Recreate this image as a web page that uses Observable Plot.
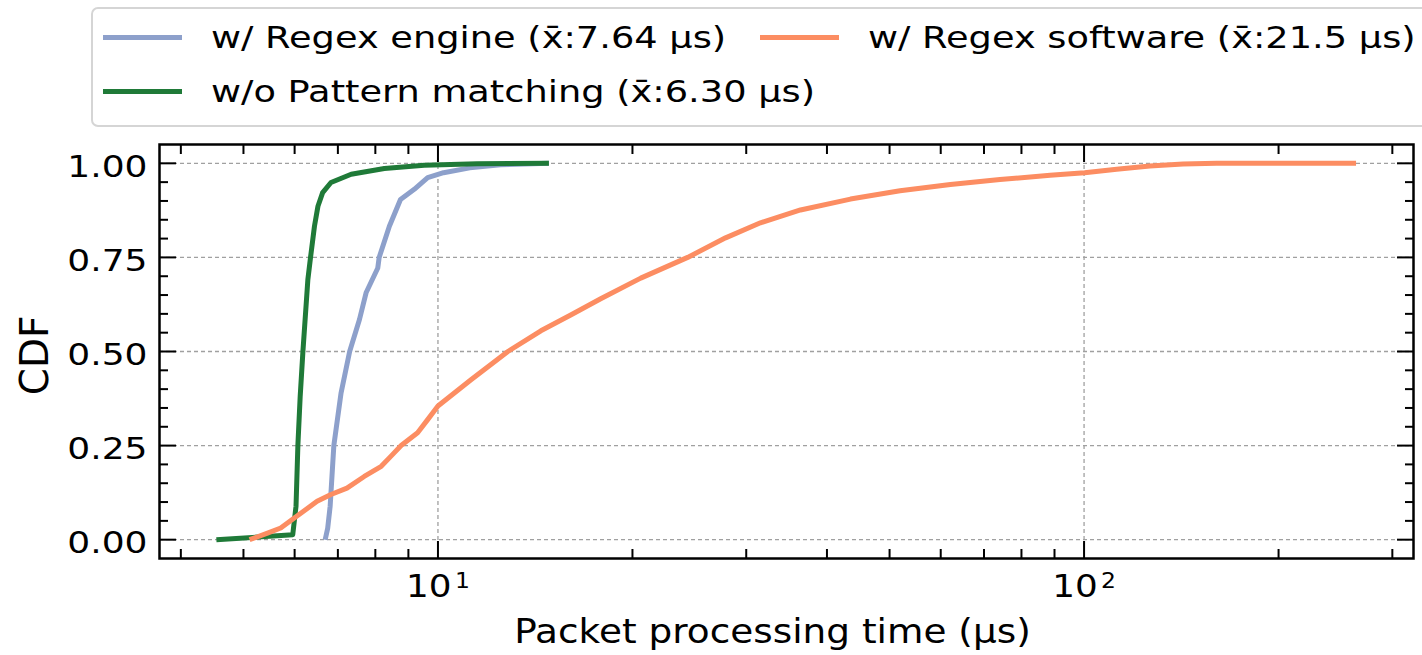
<!DOCTYPE html>
<html><head><meta charset="utf-8">
<script src="https://cdn.jsdelivr.net/npm/d3@7"></script>
<script src="https://cdn.jsdelivr.net/npm/@observablehq/plot@0.6"></script>
<style>
body{margin:0;background:#fff;font-family:"DejaVu Sans",sans-serif;}
#wrap{position:relative;width:1422px;height:655px;overflow:hidden;background:#fff;}
#chart{position:absolute;left:0;top:0;}
#legend{position:absolute;left:91px;top:7px;width:1370px;height:116px;border:2px solid #d5d5d5;border-radius:7px;background:#fff;}
.item{position:absolute;display:flex;align-items:center;height:40px;font-size:30px;white-space:nowrap;color:#000;}
.sw{width:79px;height:5px;margin-right:29px;flex:none;}
.item span{display:inline-block;transform:scaleX(1.225);transform-origin:left center;}
</style></head><body>
<div id="wrap"><div id="chart"></div><div id="legend"></div></div>
<script>
// ---- data ----
const seriesNames = [
  "w/ Regex engine (x\u0304:7.64 \u03bcs)",
  "w/o Pattern matching (x\u0304:6.30 \u03bcs)",
  "w/ Regex software (x\u0304:21.5 \u03bcs)"
];
const seriesColors = ["#8da0cb", "#1f7a38", "#fc8d62"];

const engineX = [6.69, 6.75, 6.81, 6.90, 7.08, 7.30, 7.56, 7.74, 8.07, 8.11, 8.41, 8.75, 9.19, 9.64, 10.2, 11.2, 12.5, 14.85];
const engineY = [0, 0.03, 0.089, 0.25, 0.39, 0.5, 0.585, 0.656, 0.722, 0.75, 0.833, 0.904, 0.931, 0.962, 0.975, 0.988, 0.996, 1.0];

const noPmX = [4.54, 5.96, 6.03, 6.07, 6.12, 6.18, 6.29, 6.35, 6.44, 6.52, 6.63, 6.83, 7.34, 8.26, 9.52, 11.5, 14.85];
const noPmY = [0, 0.013, 0.089, 0.25, 0.38, 0.5, 0.691, 0.75, 0.833, 0.886, 0.922, 0.949, 0.971, 0.986, 0.995, 0.999, 1.0];

const softX = [5.11, 5.46, 5.71, 6.00, 6.50, 6.83, 7.23, 7.69, 8.17, 8.46, 8.77, 9.30, 9.64, 10.0, 11.25, 12.83, 14.43, 16.05, 17.86, 20.6, 24.35, 27.87, 31.56, 36.4, 43.5, 51.9, 62.1, 74.1, 88.6, 100.2, 112.3, 126.4, 142.3, 160.3, 263.6];
const softY = [0, 0.018, 0.031, 0.058, 0.102, 0.12, 0.137, 0.168, 0.195, 0.222, 0.25, 0.284, 0.319, 0.355, 0.425, 0.50, 0.555, 0.597, 0.640, 0.695, 0.75, 0.802, 0.842, 0.876, 0.905, 0.927, 0.944, 0.957, 0.968, 0.975, 0.984, 0.993, 0.998, 1.0, 1.0];

const xMajor = [10, 100];
const xMinor = [4, 5, 6, 7, 8, 9, 20, 30, 40, 50, 60, 70, 80, 90, 200, 300];
const yMajor = [0, 0.25, 0.5, 0.75, 1.0];
const yMinor = [0.05, 0.1, 0.15, 0.2, 0.3, 0.35, 0.4, 0.45, 0.55, 0.6, 0.65, 0.7, 0.8, 0.85, 0.9, 0.95];
const xLabel = "Packet processing time (\u03bcs)";
const yLabel = "CDF";

// ---- build table ----
const xs = [engineX, noPmX, softX], ys = [engineY, noPmY, softY];
const rows = [];
xs.forEach((arr, i) => arr.forEach((x, j) => rows.push({series: seriesNames[i], x, y: ys[i][j]})));

const fmtPow = d => "10^" + Math.round(Math.log10(d));

function inTicks(valsX, valsY, len) {
  const o = {tickSize: len, strokeWidth: 2, tickFormat: () => "", label: null, stroke: "black"};
  return [
    Plot.axisY(valsY, {...o, anchor: "left", dx: len}),
    Plot.axisY(valsY, {...o, anchor: "right", dx: -len}),
    Plot.axisX(valsX, {...o, anchor: "bottom", dy: -len}),
    Plot.axisX(valsX, {...o, anchor: "top", dy: len})
  ];
}

const chart = Plot.plot({
  width: 1422, height: 655,
  marginTop: 144, marginBottom: 97, marginLeft: 159, marginRight: 9,
  x: {type: "log", domain: [3.707, 323.5]},
  y: {domain: [-0.05, 1.05]},
  color: {domain: seriesNames, range: seriesColors},
  style: {fontFamily: "DejaVu Sans", fontSize: "30px", background: "white", color: "black"},
  marks: [
    Plot.gridX(xMajor, {stroke: "#a0a0a0", strokeOpacity: 1, strokeWidth: 1.3, strokeDasharray: "4,3"}),
    Plot.gridY(yMajor, {stroke: "#a0a0a0", strokeOpacity: 1, strokeWidth: 1.3, strokeDasharray: "4,3"}),
    Plot.line(rows, {x: "x", y: "y", z: "series", stroke: "series", strokeWidth: 5, strokeLinecap: "butt"}),
    ...inTicks(xMajor, yMajor, 17),
    ...inTicks(xMinor, yMinor, 9),
    Plot.axisY(yMajor, {anchor: "left", tickSize: 0, tickPadding: 12, dy: 4, tickFormat: d3.format(".2f"), fontSize: 30, label: null}),
    Plot.axisX(xMajor, {anchor: "bottom", tickSize: 0, tickPadding: 16, tickFormat: fmtPow, fontSize: 32, label: null}),
    Plot.text([yLabel], {frameAnchor: "left", textAnchor: "middle", lineAnchor: "middle", rotate: -90, dx: -124, dy: 4, fontSize: 39}),
    Plot.text([xLabel], {frameAnchor: "bottom", textAnchor: "middle", lineAnchor: "middle", dx: -14, dy: 74, fontSize: 34}),
    Plot.frame({stroke: "black", strokeWidth: 2.5})
  ]
});
document.getElementById("chart").appendChild(chart);

function stretchText(t, k) {
  const L = t.getComputedTextLength();
  if (!(L > 0)) return;
  t.setAttribute("textLength", L * k);
  t.setAttribute("lengthAdjust", "spacingAndGlyphs");
}
chart.querySelectorAll("text").forEach(t => {
  const s = t.textContent;
  if (s.includes("^")) {
    // superscript exponent on x tick labels
    const [base, exp] = s.split("^");
    t.textContent = base;
    const ts = document.createElementNS("http://www.w3.org/2000/svg", "tspan");
    ts.setAttribute("font-size", "21");
    ts.setAttribute("dy", "-9");
    ts.setAttribute("dx", "3");
    ts.textContent = exp;
    t.appendChild(ts);
    stretchText(t, 1.18);
  } else if (/^\d\.\d\d$/.test(s)) {
    stretchText(t, 1.2);
  } else if (s === xLabel) {
    stretchText(t, 1.1);
  }
});

// ---- legend (matplotlib ncol=2, column-major) ----
const legend = document.getElementById("legend");
seriesNames.forEach((name, i) => {
  const col = Math.floor(i / 2), row = i % 2;
  const it = document.createElement("div");
  it.className = "item";
  it.style.left = (10 + col * 657) + "px";
  it.style.top = (8 + row * 54) + "px";
  const sw = document.createElement("div");
  sw.className = "sw";
  sw.style.background = seriesColors[i];
  const tx = document.createElement("span");
  tx.textContent = name;
  it.appendChild(sw); it.appendChild(tx);
  legend.appendChild(it);
});
</script>
</body></html>
